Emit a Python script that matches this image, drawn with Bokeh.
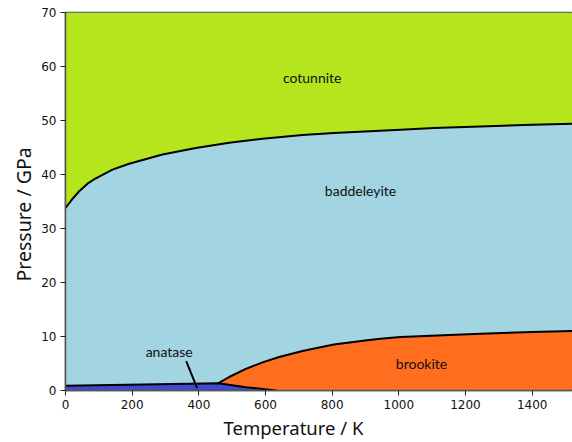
from bokeh.plotting import figure
from bokeh.models import Range1d, FixedTicker, Title
from bokeh.core.properties import value
from bokeh.embed import file_html
from bokeh.resources import INLINE

# Phase boundaries of TiO2 (temperature in K, pressure in GPa)
cot_T = [0, 21, 41, 66, 91, 141, 191, 291, 391, 491, 591, 711, 805, 1005, 1105, 1245, 1400, 1521]
cot_P = [33.8, 35.5, 36.9, 38.3, 39.3, 40.9, 42.0, 43.7, 44.9, 45.9, 46.6, 47.3, 47.7, 48.3, 48.6, 48.9, 49.2, 49.4]

brk_T = [459, 491, 541, 591, 641, 711, 805, 905, 945, 1005, 1245, 1400, 1521]
brk_P = [1.35, 2.5, 4.0, 5.2, 6.2, 7.3, 8.5, 9.3, 9.6, 9.9, 10.5, 10.85, 11.0]

ana_T = [0, 230, 459, 541, 631]
ana_P = [0.9, 1.1, 1.35, 0.62, 0.0]

T_MAX = 1521
P_MAX = 70

labels = ["cotunnite", "baddeleyite", "brookite", "anatase"]
label_T = [740, 885, 1068, 311]
label_P = [58, 37, 5.0, 7.2]

pointer_T = [363, 394]
pointer_P = [5.3, 0.6]

x_ticks = [0, 200, 400, 600, 800, 1000, 1200, 1400]
y_ticks = [0, 10, 20, 30, 40, 50, 60, 70]

C_COT = "#B5E61D"
C_BAD = "#A2D4E1"
C_BRK = "#FF6E1E"
C_ANA = "#3F4ACC"

p = figure(width=572, height=442, output_backend="svg", toolbar_location=None,
           x_range=Range1d(0, T_MAX), y_range=Range1d(0, P_MAX),
           min_border_left=65, min_border_right=0, min_border_top=12, min_border_bottom=52)
p.grid.visible = False
p.outline_line_color = "#555555"
p.outline_line_width = 1.5
p.background_fill_color = C_BAD

# regions
p.varea(x=cot_T, y1=cot_P, y2=[P_MAX] * len(cot_T), fill_color=C_COT)
p.varea(x=cot_T, y1=[0] * len(cot_T), y2=cot_P, fill_color=C_BAD)
p.varea(x=brk_T, y1=[0] * len(brk_T), y2=brk_P, fill_color=C_BRK)
p.patch(x=[0] + ana_T, y=[0] + ana_P, fill_color=C_ANA, line_color=None)

# boundaries
line_kw = dict(line_color="black", line_width=2, line_join="round", line_cap="round")
p.line(cot_T, cot_P, **line_kw)
p.line(brk_T, brk_P, **line_kw)
p.line(ana_T, ana_P, **line_kw)
p.line(pointer_T, pointer_P, **line_kw)

p.text(x=label_T, y=label_P, text=labels, text_align="center", text_baseline="middle",
       text_font=value("Lato"), text_font_size="14px", text_color="#111111")

for ax in (p.xaxis, p.yaxis):
    ax.axis_line_color = "#555555"
    ax.axis_line_width = 1.5
    ax.major_tick_line_color = "#222222"
    ax.major_tick_out = 5
    ax.major_tick_in = 0
    ax.minor_tick_line_color = None
    ax.major_label_text_font = "DejaVu Sans"
    ax.major_label_text_font_size = "12px"
    ax.major_label_text_color = "#111111"
    ax.major_label_standoff = 4

p.xaxis.ticker = FixedTicker(ticks=x_ticks)
p.yaxis.ticker = FixedTicker(ticks=y_ticks)

# axis titles, set as side titles so they can sit off-centre
x_title = Title(text="Temperature / K", align="left", offset=158, standoff=2,
                text_font="Noto Sans", text_font_size="18.5px",
                text_font_style="normal", text_color="#111111")
y_title = Title(text="Pressure / GPa", align="left", offset=109, standoff=4,
                text_font="Noto Sans", text_font_size="19.5px",
                text_font_style="normal", text_color="#111111")
p.add_layout(x_title, "below")
p.add_layout(y_title, "left")

open("out.html", "w").write(file_html(p, INLINE))
